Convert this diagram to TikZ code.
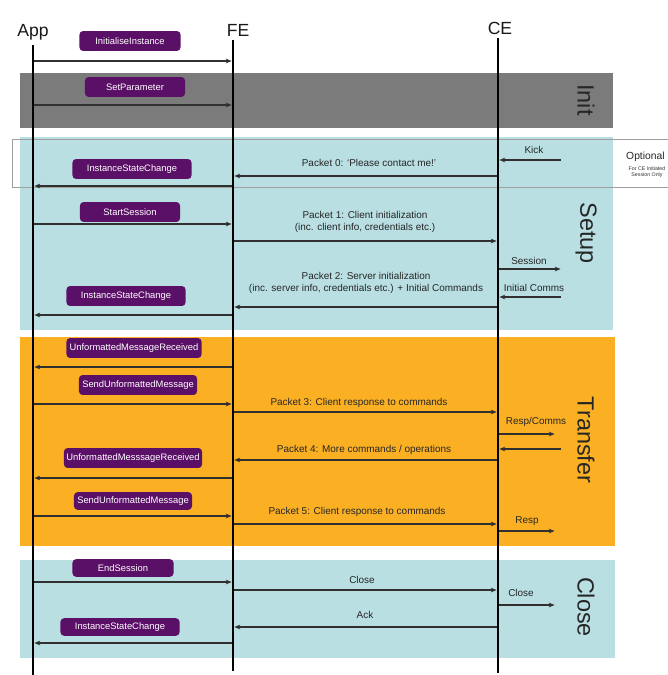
\documentclass[tikz,border=0pt]{standalone}
\usepackage{fontspec}
\setmainfont{Liberation Sans}
\usetikzlibrary{arrows.meta}
\definecolor{bandgray}{HTML}{7B7B7B}
\definecolor{bandblue}{HTML}{B9DFE3}
\definecolor{bandorange}{HTML}{FBB024}
\definecolor{pillpurple}{HTML}{5A1066}
\definecolor{msgline}{HTML}{303030}
\begin{document}
\begin{tikzpicture}[x=0.03cm,y=-0.03cm,
  bandlabel/.style={rotate=-90, font=\fontsize{20}{20}\selectfont, text=black!85},
  lifeline/.style={line width=2.4pt, black},
  actor/.style={font=\fontsize{15}{15}\selectfont, text=black!90},
  pill/.style={fill=pillpurple, rounded corners=3pt, text=white, font=\fontsize{8}{9}\selectfont, inner xsep=2pt, inner ysep=1pt, minimum height=17pt},
  msg/.style={draw=msgline, line width=0.9pt, -{Stealth[length=5pt,width=4pt]}, shorten >=1.2pt, shorten <=1.2pt},
  lbl/.style={font=\fontsize{8.5}{10}\selectfont, text=black!85, align=center, inner sep=0pt},
  optbox/.style={draw=gray!75, line width=0.8pt},
]
\useasboundingbox (0,0) rectangle (667,675);
\fill[white] (0,0) rectangle (667,675);

% bands
\fill[bandgray] (20,73) rectangle (613,128);
\fill[bandblue] (20,137) rectangle (613,330);
\fill[bandorange] (20,337) rectangle (615,546);
\fill[bandblue] (20,560) rectangle (615,658);
\node[bandlabel] (initL) at (586,100) {Init};
\node[bandlabel] (setupL) at (586,233) {Setup};
\node[bandlabel] (transferL) at (586,440) {Transfer};
\node[bandlabel] (closeL) at (586,607) {Close};

% optional box
\draw[optbox] (680,139) -- (12,139) -- (12,187) -- (680,187);
\node[font=\fontsize{8.8}{10}\selectfont, anchor=west, inner sep=0pt, text=black!85] (opt) at (626,157) {Optional};
\node[font=\fontsize{4.5}{5.5}\selectfont, inner sep=0pt, text=black!80, align=center] (optsub) at (647,172) {For CE Initiated\\Session Only};

% actors and lifelines
\node[actor] (App) at (33,32) {App};
\node[actor] (FE) at (238,30) {FE};
\node[actor] (CE) at (500,28) {CE};
\coordinate (appT) at (33,45);
\coordinate (appB) at (33,675);
\coordinate (feT) at (233,40);
\coordinate (feB) at (233,671);
\coordinate (ceT) at (498,38);
\coordinate (ceB) at (498,673);
\coordinate (extIn) at (562,0);
\coordinate (extOut) at (556,0);
\draw[lifeline] (appT) -- (appB);
\draw[lifeline] (feT) -- (feB);
\draw[lifeline] (ceT) -- (ceB);

% Init / pre
\node[pill, minimum width=3.03cm] (p1) at (130,41) {InitialiseInstance};
\draw[msg] (appT |- 0,61) -- (feT |- 0,61);
\node[pill, minimum width=3.0cm] (p2) at (135,87) {SetParameter};
\draw[msg] (appT |- 0,105) -- (feT |- 0,105);

% Setup
\node[lbl] (kick) at (534,150) {Kick};
\draw[msg] (extIn |- 0,160) -- (ceT |- 0,160);
\node[lbl] (pk0) at (369,163) {Packet 0: `Please contact me!'};
\draw[msg] (ceT |- 0,176) -- (feT |- 0,176);
\node[pill, minimum width=3.57cm] (p3) at (132,169) {InstanceStateChange};
\draw[msg] (feT |- 0,186) -- (appT |- 0,186);

\node[pill, minimum width=3.0cm] (p4) at (130,212) {StartSession};
\draw[msg] (appT |- 0,224) -- (feT |- 0,224);
\node[lbl] (pk1) at (365,222) {Packet 1: Client initialization\\(inc. client info, credentials etc.)};
\draw[msg] (feT |- 0,241) -- (ceT |- 0,241);
\node[lbl] (sess) at (529,261) {Session};
\draw[msg] (ceT |- 0,269) -- (extIn |- 0,269);
\node[lbl] (pk2) at (366,283) {Packet 2: Server initialization\\(inc. server info, credentials etc.) + Initial Commands};
\node[lbl] (icom) at (534,288) {Initial Comms};
\draw[msg] (extIn |- 0,297) -- (ceT |- 0,297);
\draw[msg] (ceT |- 0,307) -- (feT |- 0,307);
\node[pill, minimum width=3.57cm] (p5) at (126,296) {InstanceStateChange};
\draw[msg] (feT |- 0,315) -- (appT |- 0,315);

% Transfer
\node[pill, minimum width=4.05cm] (p6) at (134,348) {UnformattedMessageReceived};
\draw[msg] (feT |- 0,367) -- (appT |- 0,367);
\node[pill, minimum width=3.54cm] (p7) at (138,385) {SendUnformattedMessage};
\draw[msg] (appT |- 0,404) -- (feT |- 0,404);
\node[lbl] (pk3) at (359,403) {Packet 3: Client response to commands};
\draw[msg] (feT |- 0,412) -- (ceT |- 0,412);
\node[lbl] (rc) at (536,422) {Resp/Comms};
\draw[msg] (ceT |- 0,434) -- (extOut |- 0,434);
\draw[msg] (extIn |- 0,449) -- (ceT |- 0,449);
\node[lbl] (pk4) at (364,450) {Packet 4: More commands / operations};
\draw[msg] (ceT |- 0,460) -- (feT |- 0,460);
\node[pill, minimum width=4.14cm] (p8) at (133,458) {UnformattedMesssageReceived};
\draw[msg] (feT |- 0,478) -- (appT |- 0,478);
\node[pill, minimum width=3.54cm, minimum height=15pt] (p9) at (133,501) {SendUnformattedMessage};
\draw[msg] (appT |- 0,516) -- (feT |- 0,516);
\node[lbl] (pk5) at (357,512) {Packet 5: Client response to commands};
\draw[msg] (feT |- 0,524) -- (ceT |- 0,524);
\node[lbl] (resp) at (527,521) {Resp};
\draw[msg] (ceT |- 0,531) -- (extOut |- 0,531);

% Close
\node[pill, minimum width=3.03cm, minimum height=15pt] (p10) at (123,568) {EndSession};
\draw[msg] (appT |- 0,582) -- (feT |- 0,582);
\node[lbl] (cl1) at (362,580) {Close};
\draw[msg] (feT |- 0,590) -- (ceT |- 0,590);
\node[lbl] (cl2) at (521,593) {Close};
\draw[msg] (ceT |- 0,605) -- (extOut |- 0,605);
\node[lbl] (ack) at (365,615) {Ack};
\draw[msg] (ceT |- 0,627) -- (feT |- 0,627);
\node[pill, minimum width=3.57cm, minimum height=15pt] (p11) at (120,627) {InstanceStateChange};
\draw[msg] (feT |- 0,643) -- (appT |- 0,643);
\end{tikzpicture}
\end{document}
